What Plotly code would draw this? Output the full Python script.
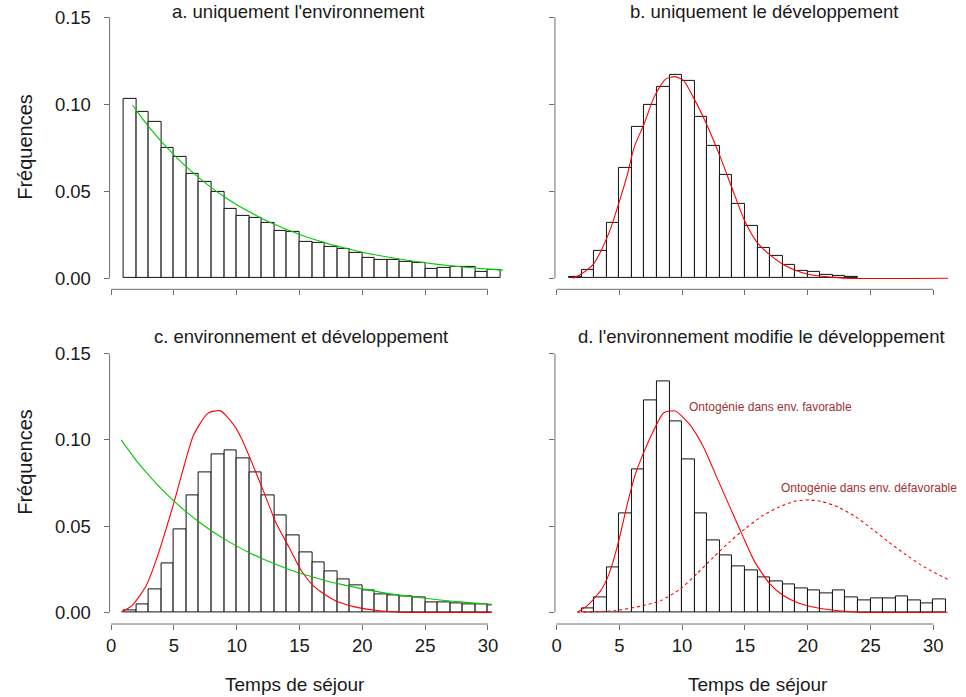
import plotly.graph_objects as go

# ---------------- data ----------------
# histogram bins (left edges), bin width = 1
a_bins = list(range(1, 31))
a_freq = [0.1034, 0.0957, 0.0900, 0.0747, 0.0695, 0.0598, 0.0555, 0.0494, 0.0400, 0.0356,
          0.0348, 0.0316, 0.0272, 0.0264, 0.0207, 0.0201, 0.0178, 0.0170, 0.0144, 0.0118,
          0.0103, 0.0103, 0.0095, 0.0086, 0.0052, 0.0057, 0.0065, 0.0065, 0.0038, 0.0048]

b_bins = list(range(1, 24))
b_freq = [0.0009, 0.0050, 0.0155, 0.0316, 0.0634, 0.0873, 0.0998, 0.1101, 0.1168, 0.1132,
          0.0925, 0.0760, 0.0592, 0.0427, 0.0302, 0.0172, 0.0126, 0.0078, 0.0044, 0.0036,
          0.0019, 0.0015, 0.0006]

c_bins = list(range(1, 31))
c_freq = [0.0009, 0.0048, 0.0135, 0.0284, 0.0483, 0.0676, 0.0810, 0.0918, 0.0940, 0.0893,
          0.0812, 0.0678, 0.0560, 0.0448, 0.0350, 0.0292, 0.0238, 0.0191, 0.0157, 0.0129,
          0.0104, 0.0096, 0.0090, 0.0087, 0.0060, 0.0060, 0.0052, 0.0046, 0.0046, 0.0042]

d_bins = list(range(2, 31))
d_freq = [0.0023, 0.0087, 0.0261, 0.0574, 0.0829, 0.1231, 0.1342, 0.1110, 0.0889, 0.0574,
          0.0419, 0.0331, 0.0269, 0.0241, 0.0203, 0.0180, 0.0160, 0.0137, 0.0129, 0.0112,
          0.0129, 0.0087, 0.0071, 0.0079, 0.0079, 0.0095, 0.0071, 0.0052, 0.0075]

# environment-only curve (panel a)
env_a_x = [1.7, 2, 3, 4, 5, 6, 7, 8, 9, 10, 11, 12, 13, 14, 15, 16, 17, 18, 19, 20,
           22, 24, 26, 28, 30, 31.2]
env_a_y = [0.0996, 0.0965, 0.0870, 0.0785, 0.0710, 0.0640, 0.0577, 0.0520, 0.0469, 0.0423,
           0.0382, 0.0344, 0.0310, 0.0280, 0.0252, 0.0227, 0.0205, 0.0185, 0.0167, 0.0150,
           0.0122, 0.0099, 0.0080, 0.0065, 0.0053, 0.0047]

# environment curve (panel c)
env_c_x = [0.8, 1, 2, 3, 4, 5, 6, 7, 8, 9, 10, 11, 12, 13, 14, 15, 16, 17, 18, 19, 20,
           22, 24, 26, 28, 30, 31.2]
env_c_y = [0.1000, 0.0980, 0.0880, 0.0795, 0.0716, 0.0645, 0.0581, 0.0524, 0.0472, 0.0426,
           0.0384, 0.0346, 0.0312, 0.0281, 0.0253, 0.0228, 0.0206, 0.0185, 0.0167, 0.0151,
           0.0136, 0.0110, 0.0090, 0.0073, 0.0059, 0.0048, 0.0043]

# development curve (panel b)
dev_b_x = [1.3, 1.97, 2.94, 3.55, 4.34, 4.94, 5.65, 6.18, 6.97, 7.76, 8.68, 9.46, 10.12,
           10.9, 11.82, 12.95, 13.95, 14.98, 15.97, 16.97, 17.99, 18.96, 19.96, 20.96,
           21.95, 22.98, 31.2]
dev_b_y = [0.0, 0.0025, 0.0082, 0.0159, 0.0293, 0.0427, 0.0599, 0.0753, 0.0887, 0.1040,
           0.1145, 0.1159, 0.1136, 0.1040, 0.0906, 0.0714, 0.0523, 0.0331, 0.0207, 0.0136,
           0.0082, 0.0048, 0.0025, 0.0013, 0.0006, 0.0, 0.0]

# development curve (panel c)
dev_c_x = [0.79, 1.7, 2.75, 3.54, 4.98, 5.64, 6.56, 7.69, 8.67, 9.72, 10.38, 11.1, 12.14,
           13.14, 14.14, 15.11, 16.16, 17.74, 19.3, 21.2, 23.0, 31.2]
dev_c_y = [0.0, 0.0042, 0.0149, 0.0294, 0.0632, 0.0806, 0.1028, 0.1154, 0.1170, 0.1092,
           0.1009, 0.0887, 0.0700, 0.0516, 0.0380, 0.0245, 0.0149, 0.0071, 0.0033, 0.0010,
           0.0, 0.0]

# ontogeny in favourable environment (panel d, solid)
fav_x = [1.66, 2.5, 3.55, 4.2, 4.94, 5.65, 6.3, 6.97, 7.62, 8.54, 9.46, 10.64, 11.69,
         12.74, 13.79, 14.85, 15.77, 16.95, 18.0, 19.31, 20.9, 22.47, 24.0, 31.2]
fav_y = [0.0, 0.0042, 0.0129, 0.0226, 0.0410, 0.0632, 0.0806, 0.0932, 0.1038, 0.1158,
         0.1168, 0.1086, 0.0961, 0.0787, 0.0613, 0.0439, 0.0294, 0.0168, 0.0100, 0.0052,
         0.0023, 0.0009, 0.0, 0.0]

# ontogeny in unfavourable environment (panel d, dotted)
unfav_x = [1.66, 4.6, 6.7, 8.3, 9.85, 11.2, 12.5, 13.8, 15.1, 16.4, 17.7, 19.0, 20.1,
           21.1, 22.45, 23.8, 25.1, 26.4, 27.7, 29.0, 30.1, 31.2]
unfav_y = [0.0, 0.0009, 0.0035, 0.0068, 0.0135, 0.0225, 0.0320, 0.0410, 0.0490, 0.0560,
           0.0610, 0.0645, 0.0652, 0.0643, 0.0610, 0.0555, 0.0485, 0.0410, 0.0340, 0.0275,
           0.0230, 0.0190]

x_ticks = [0, 5, 10, 15, 20, 25, 30]
y_ticks = [0.00, 0.05, 0.10, 0.15]

titles = ["a. uniquement l'environnement", "b. uniquement le développement",
          "c. environnement et développement", "d. l'environnement modifie le développement"]
y_title = "Fréquences"
x_title = "Temps de séjour"
note_fav = "Ontogénie dans env. favorable"
note_unfav = "Ontogénie dans env. défavorable"

# ---------------- style / layout ----------------
W, H = 966, 697
FONT = "Liberation Sans, Arial, sans-serif"
AX = "#6e6e6e"
GREEN = "#00c800"
RED = "#ff0000"
TXT = "#1a1a1a"


def fx(p):
    return p / W


def fy(p):
    return 1 - p / H


SX = 12.69  # px per x unit
panels = {
    # name: (pixel of x value 0, x range, y-domain px (bottom, top), y range)
    1: (108.3, [-0.126, 31.2], (289.3, 6.9), [-0.00632, 0.156]),
    2: (558.3, [-0.126, 31.2], (289.3, 6.9), [-0.00632, 0.156]),
    3: (108.3, [-0.126, 30.3], (624.0, 343.4), [-0.00679, 0.156]),
    4: (558.3, [-0.126, 31.15], (624.0, 343.4), [-0.00679, 0.156]),
}

fig = go.Figure()


def sfx(i):
    return "" if i == 1 else str(i)


def add_hist(i, bins, freq):
    fig.add_trace(go.Bar(
        x=[b + 0.5 for b in bins], y=freq, width=1,
        marker=dict(color="white", line=dict(color="#111111", width=1)),
        xaxis="x" + sfx(i), yaxis="y" + sfx(i), showlegend=False, hoverinfo="skip"))


def add_line(i, x, y, color, dash="solid"):
    fig.add_trace(go.Scatter(
        x=x, y=y, mode="lines",
        line=dict(color=color, width=1.1, dash=dash, shape="spline", smoothing=0.6),
        xaxis="x" + sfx(i), yaxis="y" + sfx(i), showlegend=False, hoverinfo="skip"))


add_hist(1, a_bins, a_freq)
add_line(1, env_a_x, env_a_y, GREEN)

add_hist(2, b_bins, b_freq)
add_line(2, dev_b_x, dev_b_y, RED)

add_hist(3, c_bins, c_freq)
add_line(3, dev_c_x, dev_c_y, RED)
add_line(3, env_c_x, env_c_y, GREEN)

add_hist(4, d_bins, d_freq)
add_line(4, fav_x, fav_y, RED)
add_line(4, unfav_x, unfav_y, RED, dash="dot")

layout = dict(
    width=W, height=H, margin=dict(l=0, r=0, t=0, b=0),
    paper_bgcolor="white", plot_bgcolor="white",
    font=dict(family=FONT, color=TXT),
    bargap=0, showlegend=False,
)
shapes = []
for i, (x0p, xr, (yb, yt), yr) in panels.items():
    left = x0p + xr[0] * SX
    right = x0p + xr[1] * SX
    s = sfx(i)
    layout["xaxis" + s] = dict(
        domain=[fx(left), fx(right)], range=xr, anchor="y" + s,
        showline=False, showgrid=False, zeroline=False,
        ticks="outside", ticklen=5, tickwidth=1, tickcolor=AX,
        tickvals=x_ticks, showticklabels=(i >= 3),
        tickfont=dict(size=18.5, family=FONT, color=TXT),
        fixedrange=True,
    )
    layout["yaxis" + s] = dict(
        domain=[fy(yb), fy(yt)], range=yr, anchor="x" + s,
        showline=False, showgrid=False, zeroline=False,
        ticks="outside", ticklen=5, tickwidth=1, tickcolor=AX,
        tickvals=y_ticks, tickformat=".2f", showticklabels=(i in (1, 3)),
        tickfont=dict(size=18.5, family=FONT, color=TXT),
        ticklabelstandoff=9,
        fixedrange=True,
    )
    shapes.append(dict(type="line", xref="x" + s + " domain", yref="y" + s,
                       x0=0, x1=0, y0=0, y1=0.15, line=dict(color=AX, width=1)))
    shapes.append(dict(type="line", xref="x" + s, yref="y" + s + " domain",
                       x0=0, x1=30, y0=0, y1=0, line=dict(color=AX, width=1)))
layout["shapes"] = shapes

ann = []
title_pos = [(297, 12), (768, 12), (300, 336), (765, 336)]
for t, (x, y) in zip(titles, title_pos):
    ann.append(dict(text=t, x=fx(x), y=fy(y), xref="paper", yref="paper",
                    xanchor="center", yanchor="middle", showarrow=False,
                    font=dict(size=18.5, family=FONT, color=TXT)))
for y in (147, 462):
    ann.append(dict(text=y_title, x=fx(21), y=fy(y), xref="paper", yref="paper",
                    xanchor="center", yanchor="middle", textangle=-90, showarrow=False,
                    font=dict(size=20, family=FONT, color=TXT)))
for x in (294, 762):
    ann.append(dict(text=x_title, x=fx(x), y=fy(684), xref="paper", yref="paper",
                    xanchor="center", yanchor="middle", showarrow=False,
                    font=dict(size=19, family=FONT, color=TXT)))
ann.append(dict(text=note_fav, x=fx(690), y=fy(407), xref="paper", yref="paper",
                xanchor="left", yanchor="middle", showarrow=False,
                font=dict(size=12, family=FONT, color="#a03232")))
ann.append(dict(text=note_unfav, x=fx(783), y=fy(488), xref="paper", yref="paper",
                xanchor="left", yanchor="middle", showarrow=False,
                font=dict(size=12, family=FONT, color="#a03232")))
layout["annotations"] = ann

fig.update_layout(**layout)
fig.write_html(
    "out.html",
    config={"displayModeBar": False},
    post_script="document.body.style.margin='0';document.body.style.overflow='hidden';",
)
